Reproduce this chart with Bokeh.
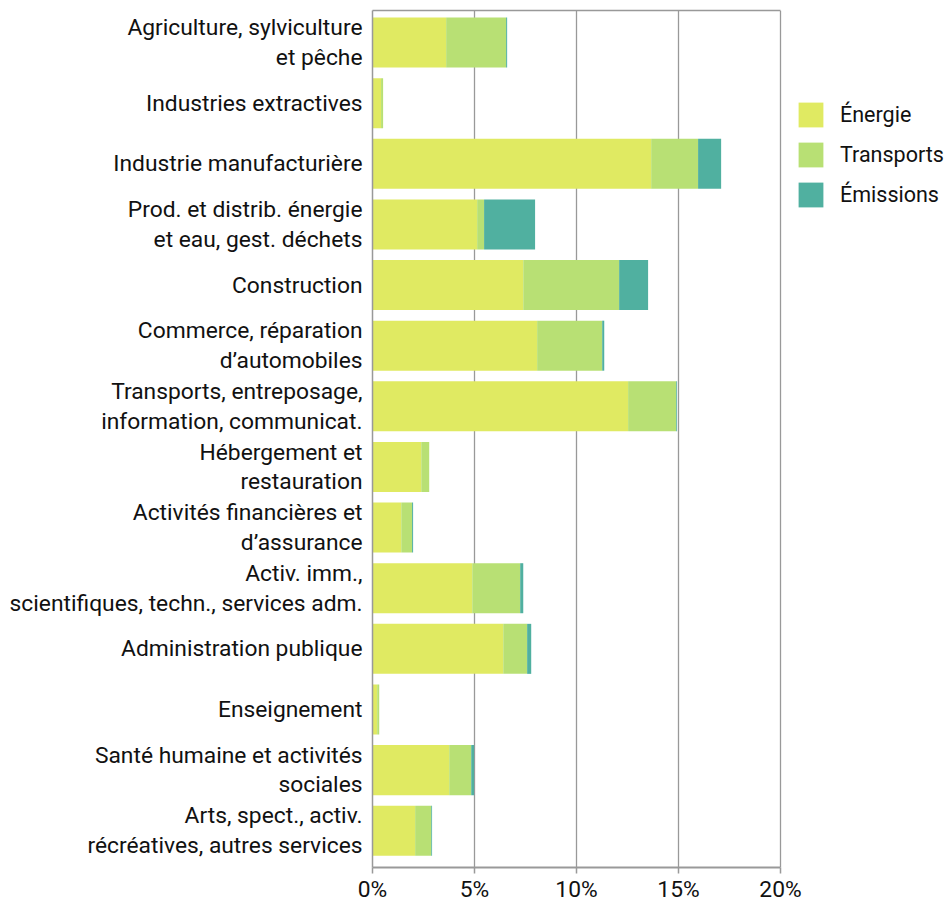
from bokeh.plotting import figure
from bokeh.models import (ColumnDataSource, Range1d, FixedTicker, PrintfTickFormatter,
                          Legend, LegendItem, LinearAxis)
from bokeh.embed import file_html
from bokeh.resources import INLINE

categories = [
    "Agriculture, sylviculture\net pêche",
    "Industries extractives",
    "Industrie manufacturière",
    "Prod. et distrib. énergie\net eau, gest. déchets",
    "Construction",
    "Commerce, réparation\nd’automobiles",
    "Transports, entreposage,\ninformation, communicat.",
    "Hébergement et\nrestauration",
    "Activités financières et\nd’assurance",
    "Activ. imm.,\nscientifiques, techn., services adm.",
    "Administration publique",
    "Enseignement",
    "Santé humaine et activités\nsociales",
    "Arts, spect., activ.\nrécréatives, autres services",
]
energie = [3.61, 0.42, 13.66, 5.13, 7.39, 8.07, 12.53, 2.39, 1.41, 4.89, 6.41, 0.23, 3.76, 2.09]
transports = [2.94, 0.10, 2.30, 0.34, 4.70, 3.19, 2.36, 0.39, 0.53, 2.35, 1.17, 0.10, 1.08, 0.79]
emissions = [0.05, 0.00, 1.13, 2.50, 1.42, 0.10, 0.04, 0.00, 0.05, 0.15, 0.20, 0.00, 0.14, 0.04]
series_names = ["Énergie", "Transports", "Émissions"]
x_ticks = [0, 5, 10, 15, 20]

colors = ["#e0ea62", "#b8e074", "#50b0a0"]
FONT = "Roboto"
FS = "22.8px"
GRAY = "#999999"

source = ColumnDataSource(dict(
    y=list(range(len(categories))),
    energie=energie,
    transports=transports,
    emissions=emissions,
))

n = len(categories)
AX_MAX = 20
FRAME_W = 577
X_END = AX_MAX * FRAME_W / 408   # frame extends to the right to host the legend

p = figure(width=372 + FRAME_W + 1, height=905, output_backend="svg", toolbar_location=None,
           x_range=Range1d(0, X_END), y_range=Range1d(n - 1 + 0.606, -0.528),
           min_border_left=372, min_border_right=1, min_border_top=10, min_border_bottom=38)

renderers = p.hbar_stack(["energie", "transports", "emissions"], y="y", height=0.825,
                         color=colors, line_color=None, source=source)

p.xaxis.ticker = FixedTicker(ticks=x_ticks)
p.xaxis.formatter = PrintfTickFormatter(format="%d%%")
p.xaxis.bounds = (0, AX_MAX)
p.yaxis.ticker = FixedTicker(ticks=list(range(n)))
p.yaxis.major_label_overrides = {i: c for i, c in enumerate(categories)}

for ax in (p.xaxis, p.yaxis):
    ax.axis_line_color = GRAY
    ax.major_label_text_font = FONT
    ax.major_label_text_font_size = FS
    ax.major_label_text_color = "#111111"
    ax.major_label_text_line_height = 1.1
    ax.minor_tick_line_color = None
p.xaxis.axis_line_width = 2
p.xaxis.major_tick_line_color = GRAY
p.xaxis.major_tick_line_width = 1.5
p.xaxis.major_tick_out = 6
p.xaxis.major_tick_in = 0
p.xaxis.major_label_standoff = 2
p.yaxis.major_tick_line_color = None
p.yaxis.major_tick_out = 0
p.yaxis.major_label_standoff = 10
p.yaxis.axis_line_width = 1.5

top_axis = LinearAxis(ticker=FixedTicker(ticks=[]), bounds=(0, AX_MAX),
                      axis_line_color=GRAY, axis_line_width=1.5,
                      major_tick_line_color=None, minor_tick_line_color=None,
                      major_tick_out=0, major_tick_in=0, major_label_standoff=0,
                      major_label_text_font_size="0px")
p.add_layout(top_axis, "above")

p.xgrid.grid_line_color = GRAY
p.xgrid.grid_line_width = 1.3
p.ygrid.grid_line_color = None
p.outline_line_color = None

legend = Legend(items=[LegendItem(label=s, renderers=[r]) for s, r in zip(series_names, renderers)],
                location=(423, 657), orientation="vertical",
                glyph_width=31, glyph_height=31, spacing=9, label_standoff=14,
                label_text_font=FONT, label_text_font_size="21.5px", label_text_color="#111111",
                border_line_color=None, background_fill_alpha=0, padding=0, margin=0)
p.add_layout(legend, "center")

open("out.html", "w").write(file_html(p, INLINE))
